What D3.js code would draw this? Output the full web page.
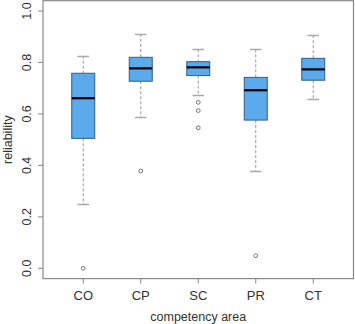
<!DOCTYPE html>
<html>
<head>
<meta charset="utf-8">
<script src="https://cdn.jsdelivr.net/npm/d3@7"></script>
<style>
  html, body { margin: 0; padding: 0; background: #fff; }
  svg text { font-family: "Liberation Sans", Arial, sans-serif; fill: #333; }
</style>
</head>
<body>
<svg id="chart" width="355" height="324"></svg>
<script>
// Boxplot stats
var categories  = ['CO', 'CP', 'SC', 'PR', 'CT'];
var whiskerLow  = [0.249, 0.588, 0.672, 0.378, 0.657];
var q1          = [0.505, 0.727, 0.749, 0.576, 0.731];
var medians     = [0.661, 0.777, 0.781, 0.692, 0.773];
var q3          = [0.758, 0.820, 0.803, 0.742, 0.816];
var whiskerHigh = [0.826, 0.911, 0.851, 0.851, 0.906];
var outliers    = [[0.0], [0.378], [0.645, 0.613, 0.546], [0.049], []];
var yTicks      = [0.0, 0.2, 0.4, 0.6, 0.8, 1.0];

var svg = d3.select('#chart');
// note: "top" is taken by window.top, so plot edges get their own names
var plotL = 43, plotR = 353.5, plotT = 0.7, plotB = 278.6;

// R style: 4% padding on both axes
var x = d3.scaleLinear().domain([0.3, 5.7]).range([plotL, plotR]);
var y = d3.scaleLinear().domain([-0.04, 1.04]).range([plotB, plotT]);

var boxes = categories.map(function(c, i) {
  return { name: c, pos: i + 1, lo: whiskerLow[i], q1: q1[i], med: medians[i], q3: q3[i], hi: whiskerHigh[i], out: outliers[i] };
});

var boxW = x(1.4) - x(1);   // 0.8 of a slot
var capW = boxW / 2;

var g = svg.append('g').selectAll('g').data(boxes).join('g');

// whiskers (dashed)
g.append('line')
  .attr('x1', function(d) { return x(d.pos); }).attr('x2', function(d) { return x(d.pos); })
  .attr('y1', function(d) { return y(d.hi); }).attr('y2', function(d) { return y(d.q3); })
  .attr('stroke', '#999').attr('stroke-dasharray', '3,2');
g.append('line')
  .attr('x1', function(d) { return x(d.pos); }).attr('x2', function(d) { return x(d.pos); })
  .attr('y1', function(d) { return y(d.q1); }).attr('y2', function(d) { return y(d.lo); })
  .attr('stroke', '#999').attr('stroke-dasharray', '3,2');

// caps
['hi', 'lo'].forEach(function(k) {
  g.append('line')
    .attr('x1', function(d) { return x(d.pos) - capW / 2; }).attr('x2', function(d) { return x(d.pos) + capW / 2; })
    .attr('y1', function(d) { return Math.round(y(d[k])) + 0.5; }).attr('y2', function(d) { return Math.round(y(d[k])) + 0.5; })
    .attr('stroke', '#aaa').attr('stroke-width', 1.5);
});

// boxes
g.append('rect')
  .attr('x', function(d) { return x(d.pos) - boxW / 2; })
  .attr('y', function(d) { return y(d.q3); })
  .attr('width', boxW)
  .attr('height', function(d) { return y(d.q1) - y(d.q3); })
  .attr('fill', '#5aaaec')
  .attr('stroke', '#2f5f86').attr('stroke-width', 1);

// medians
g.append('line')
  .attr('x1', function(d) { return x(d.pos) - boxW / 2; }).attr('x2', function(d) { return x(d.pos) + boxW / 2; })
  .attr('y1', function(d) { return y(d.med); }).attr('y2', function(d) { return y(d.med); })
  .attr('stroke', '#000').attr('stroke-width', 2.2);

// outliers
g.selectAll('circle').data(function(d) { return d.out.map(function(v) { return { pos: d.pos, v: v }; }); })
  .join('circle')
  .attr('cx', function(d) { return x(d.pos); }).attr('cy', function(d) { return y(d.v); })
  .attr('r', 1.9).attr('fill', 'none').attr('stroke', '#666').attr('stroke-width', 0.9);

// frame
svg.append('rect')
  .attr('x', plotL).attr('y', plotT).attr('width', plotR - plotL).attr('height', plotB - plotT)
  .attr('fill', 'none').attr('stroke', '#888').attr('stroke-width', 1.2);

// y axis ticks + labels (rotated like R's default)
var yAx = svg.append('g');
yAx.selectAll('line').data(yTicks).join('line')
  .attr('x1', plotL - 5).attr('x2', plotL)
  .attr('y1', function(d) { return y(d); }).attr('y2', function(d) { return y(d); })
  .attr('stroke', '#888');
yAx.selectAll('text').data(yTicks).join('text')
  .attr('transform', function(d) { return 'translate(31,' + y(d) + ') rotate(-90)'; })
  .attr('text-anchor', 'middle')
  .attr('font-size', 12.5)
  .text(function(d) { return d.toFixed(1); });

// x axis ticks + labels
var xAx = svg.append('g');
xAx.selectAll('line').data(boxes).join('line')
  .attr('x1', function(d) { return x(d.pos); }).attr('x2', function(d) { return x(d.pos); })
  .attr('y1', plotB).attr('y2', plotB + 5)
  .attr('stroke', '#888');
xAx.selectAll('text').data(boxes).join('text')
  .attr('x', function(d) { return x(d.pos); }).attr('y', 300)
  .attr('text-anchor', 'middle')
  .attr('font-size', 13)
  .text(function(d) { return d.name; });

// axis titles
svg.append('text')
  .attr('x', (plotL + plotR) / 2).attr('y', 321)
  .attr('text-anchor', 'middle').attr('font-size', 12.5)
  .text('competency area');
svg.append('text')
  .attr('transform', 'translate(12,' + (plotT + plotB) / 2 + ') rotate(-90)')
  .attr('text-anchor', 'middle').attr('font-size', 12.5)
  .text('reliability');
</script>
</body>
</html>
